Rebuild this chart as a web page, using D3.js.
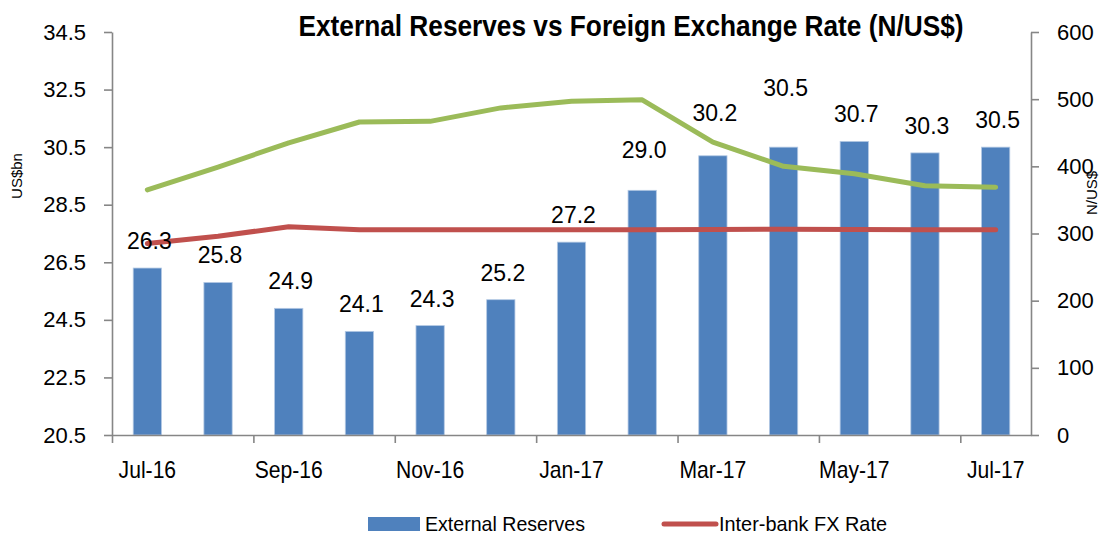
<!DOCTYPE html>
<html>
<head>
<meta charset="utf-8">
<script src="https://cdn.jsdelivr.net/npm/d3@7"></script>
<style>
  body { margin: 0; background: #fff; }
  svg { display: block; font-family: "Liberation Sans", Arial, sans-serif; }
</style>
</head>
<body>
<div class="div-chart"></div>
<script>
// chart values
const months = ['Jul-16', 'Aug-16', 'Sep-16', 'Oct-16', 'Nov-16', 'Dec-16', 'Jan-17',
    'Feb-17', 'Mar-17', 'Apr-17', 'May-17', 'Jun-17', 'Jul-17'];
const reserves = [26.3, 25.8, 24.9, 24.1, 24.3, 25.2, 27.2, 29.0, 30.2, 30.5, 30.7, 30.3, 30.5];
const interbank = [285, 296, 310, 305.5, 305.5, 305.5, 305.5, 305.5, 306, 306.5, 306, 305.5, 305.5];
const parallel = [365, 399, 435, 466, 467, 487, 497, 499, 436, 400, 389, 371, 369];
const leftTicks = [20.5, 22.5, 24.5, 26.5, 28.5, 30.5, 32.5, 34.5];
const rightTicks = [0, 100, 200, 300, 400, 500, 600];
const shownMonths = ['Jul-16', 'Sep-16', 'Nov-16', 'Jan-17', 'Mar-17', 'May-17', 'Jul-17'];

// labels nudged up where the green line would cross them
const labelLift = [0, 0, 0, 0, 0, 0, 0, 13, 16, 32, 0, 0, 0];

const width = 1112, height = 537;
const plotLeft = 112, plotRight = 1031, plotTop = 32, plotBottom = 435;
const axisColor = '#868686';

const svg = d3.select('.div-chart')
    .append('svg')
    .attr('width', width)
    .attr('height', height);

const x = d3.scaleBand()
    .domain(months)
    .range([plotLeft, plotRight])
    .padding(0);
const bw = x.bandwidth();

const xi = d3.scaleLinear()
    .domain([0, months.length])
    .range([plotLeft, plotRight]);

const yL = d3.scaleLinear()
    .domain([20.5, 34.5])
    .range([plotBottom, plotTop]);

const yR = d3.scaleLinear()
    .domain([0, 600])
    .range([plotBottom, plotTop]);

function squeeze(sel, k) {
    sel.each(function () {
        const w = this.getComputedTextLength();
        d3.select(this).attr('textLength', w * k).attr('lengthAdjust', 'spacingAndGlyphs');
    });
}

// bars
const barW = bw * 0.4;
svg.append('g')
    .selectAll('rect')
    .data(reserves)
    .enter().append('rect')
    .attr('x', (d, i) => x(months[i]) + (bw - barW) / 2)
    .attr('y', d => yL(d))
    .attr('width', barW)
    .attr('height', d => yL(20.5) - yL(d))
    .attr('fill', '#4F81BD')
    .attr('stroke', '#b4c9e4')
    .attr('stroke-width', 0.8);

// axes
const gLeft = svg.append('g')
    .attr('transform', `translate(${plotLeft},0)`)
    .call(d3.axisLeft(yL).tickValues(leftTicks).tickSize(8).tickSizeOuter(0)
        .tickPadding(18).tickFormat(d3.format('.1f')));

const gRight = svg.append('g')
    .attr('transform', `translate(${plotRight},0)`)
    .call(d3.axisRight(yR).tickValues(rightTicks).tickSize(8).tickSizeOuter(0)
        .tickPadding(18));

const gBottom = svg.append('g')
    .attr('transform', `translate(0,${plotBottom})`)
    .call(d3.axisBottom(xi).tickValues(d3.range(0, months.length, 2)).tickSize(8)
        .tickSizeOuter(0).tickFormat(''));

const gLabels = svg.append('g')
    .attr('transform', `translate(0,${plotBottom})`)
    .call(d3.axisBottom(x).tickValues(shownMonths).tickSize(0).tickPadding(26));
gLabels.select('.domain').remove();

[gLeft, gRight, gBottom].forEach(g => {
    g.selectAll('.domain, .tick line')
        .attr('stroke', axisColor)
        .attr('stroke-width', 1.6);
});
[gLeft, gRight].forEach(g => {
    g.selectAll('.tick text')
        .attr('font-size', 22)
        .attr('font-family', '"Liberation Sans", Arial, sans-serif')
        .attr('fill', '#000');
});
gLabels.selectAll('.tick text')
    .attr('font-size', 24)
    .attr('font-family', '"Liberation Sans", Arial, sans-serif')
    .attr('fill', '#000')
    .call(squeeze, 0.88);

// lines
const line = d3.line()
    .x((d, i) => x(months[i]) + bw / 2)
    .y(d => yR(d));

svg.append('path')
    .datum(parallel)
    .attr('d', line)
    .attr('fill', 'none')
    .attr('stroke', '#9BBB59')
    .attr('stroke-width', 5)
    .attr('stroke-linejoin', 'round')
    .attr('stroke-linecap', 'round');

svg.append('path')
    .datum(interbank)
    .attr('d', line)
    .attr('fill', 'none')
    .attr('stroke', '#C0504D')
    .attr('stroke-width', 5)
    .attr('stroke-linejoin', 'round')
    .attr('stroke-linecap', 'round');

// bar value labels
svg.append('g')
    .selectAll('text')
    .data(reserves)
    .enter().append('text')
    .attr('x', (d, i) => x(months[i]) + bw / 2 + 2)
    .attr('y', (d, i) => yL(d) - 19 - labelLift[i])
    .attr('text-anchor', 'middle')
    .attr('font-size', 23)
    .attr('fill', '#000')
    .text(d => d3.format('.1f')(d));

// title
svg.append('text')
    .attr('x', 631)
    .attr('y', 36)
    .attr('text-anchor', 'middle')
    .attr('font-size', 29)
    .attr('font-weight', 'bold')
    .attr('textLength', 665)
    .attr('lengthAdjust', 'spacingAndGlyphs')
    .text('External Reserves vs Foreign Exchange Rate (N/US$)');

// axis titles
svg.append('text')
    .attr('transform', 'translate(22,176) rotate(-90)')
    .attr('text-anchor', 'middle')
    .attr('font-size', 15)
    .text('US$bn');

svg.append('text')
    .attr('transform', 'translate(1097,193) rotate(-90)')
    .attr('text-anchor', 'middle')
    .attr('font-size', 15)
    .text('N/US$');

// legend
const legend = svg.append('g');
legend.append('rect')
    .attr('x', 368).attr('y', 517)
    .attr('width', 52).attr('height', 14)
    .attr('fill', '#4F81BD');
legend.append('text')
    .attr('x', 425).attr('y', 531)
    .attr('font-size', 21)
    .attr('textLength', 160)
    .attr('lengthAdjust', 'spacingAndGlyphs')
    .text('External Reserves');
legend.append('line')
    .attr('x1', 664).attr('x2', 716)
    .attr('y1', 524).attr('y2', 524)
    .attr('stroke', '#C0504D')
    .attr('stroke-width', 5)
    .attr('stroke-linecap', 'round');
legend.append('text')
    .attr('x', 719).attr('y', 531)
    .attr('font-size', 21)
    .attr('textLength', 168)
    .attr('lengthAdjust', 'spacingAndGlyphs')
    .text('Inter-bank FX Rate');
</script>
</body>
</html>
